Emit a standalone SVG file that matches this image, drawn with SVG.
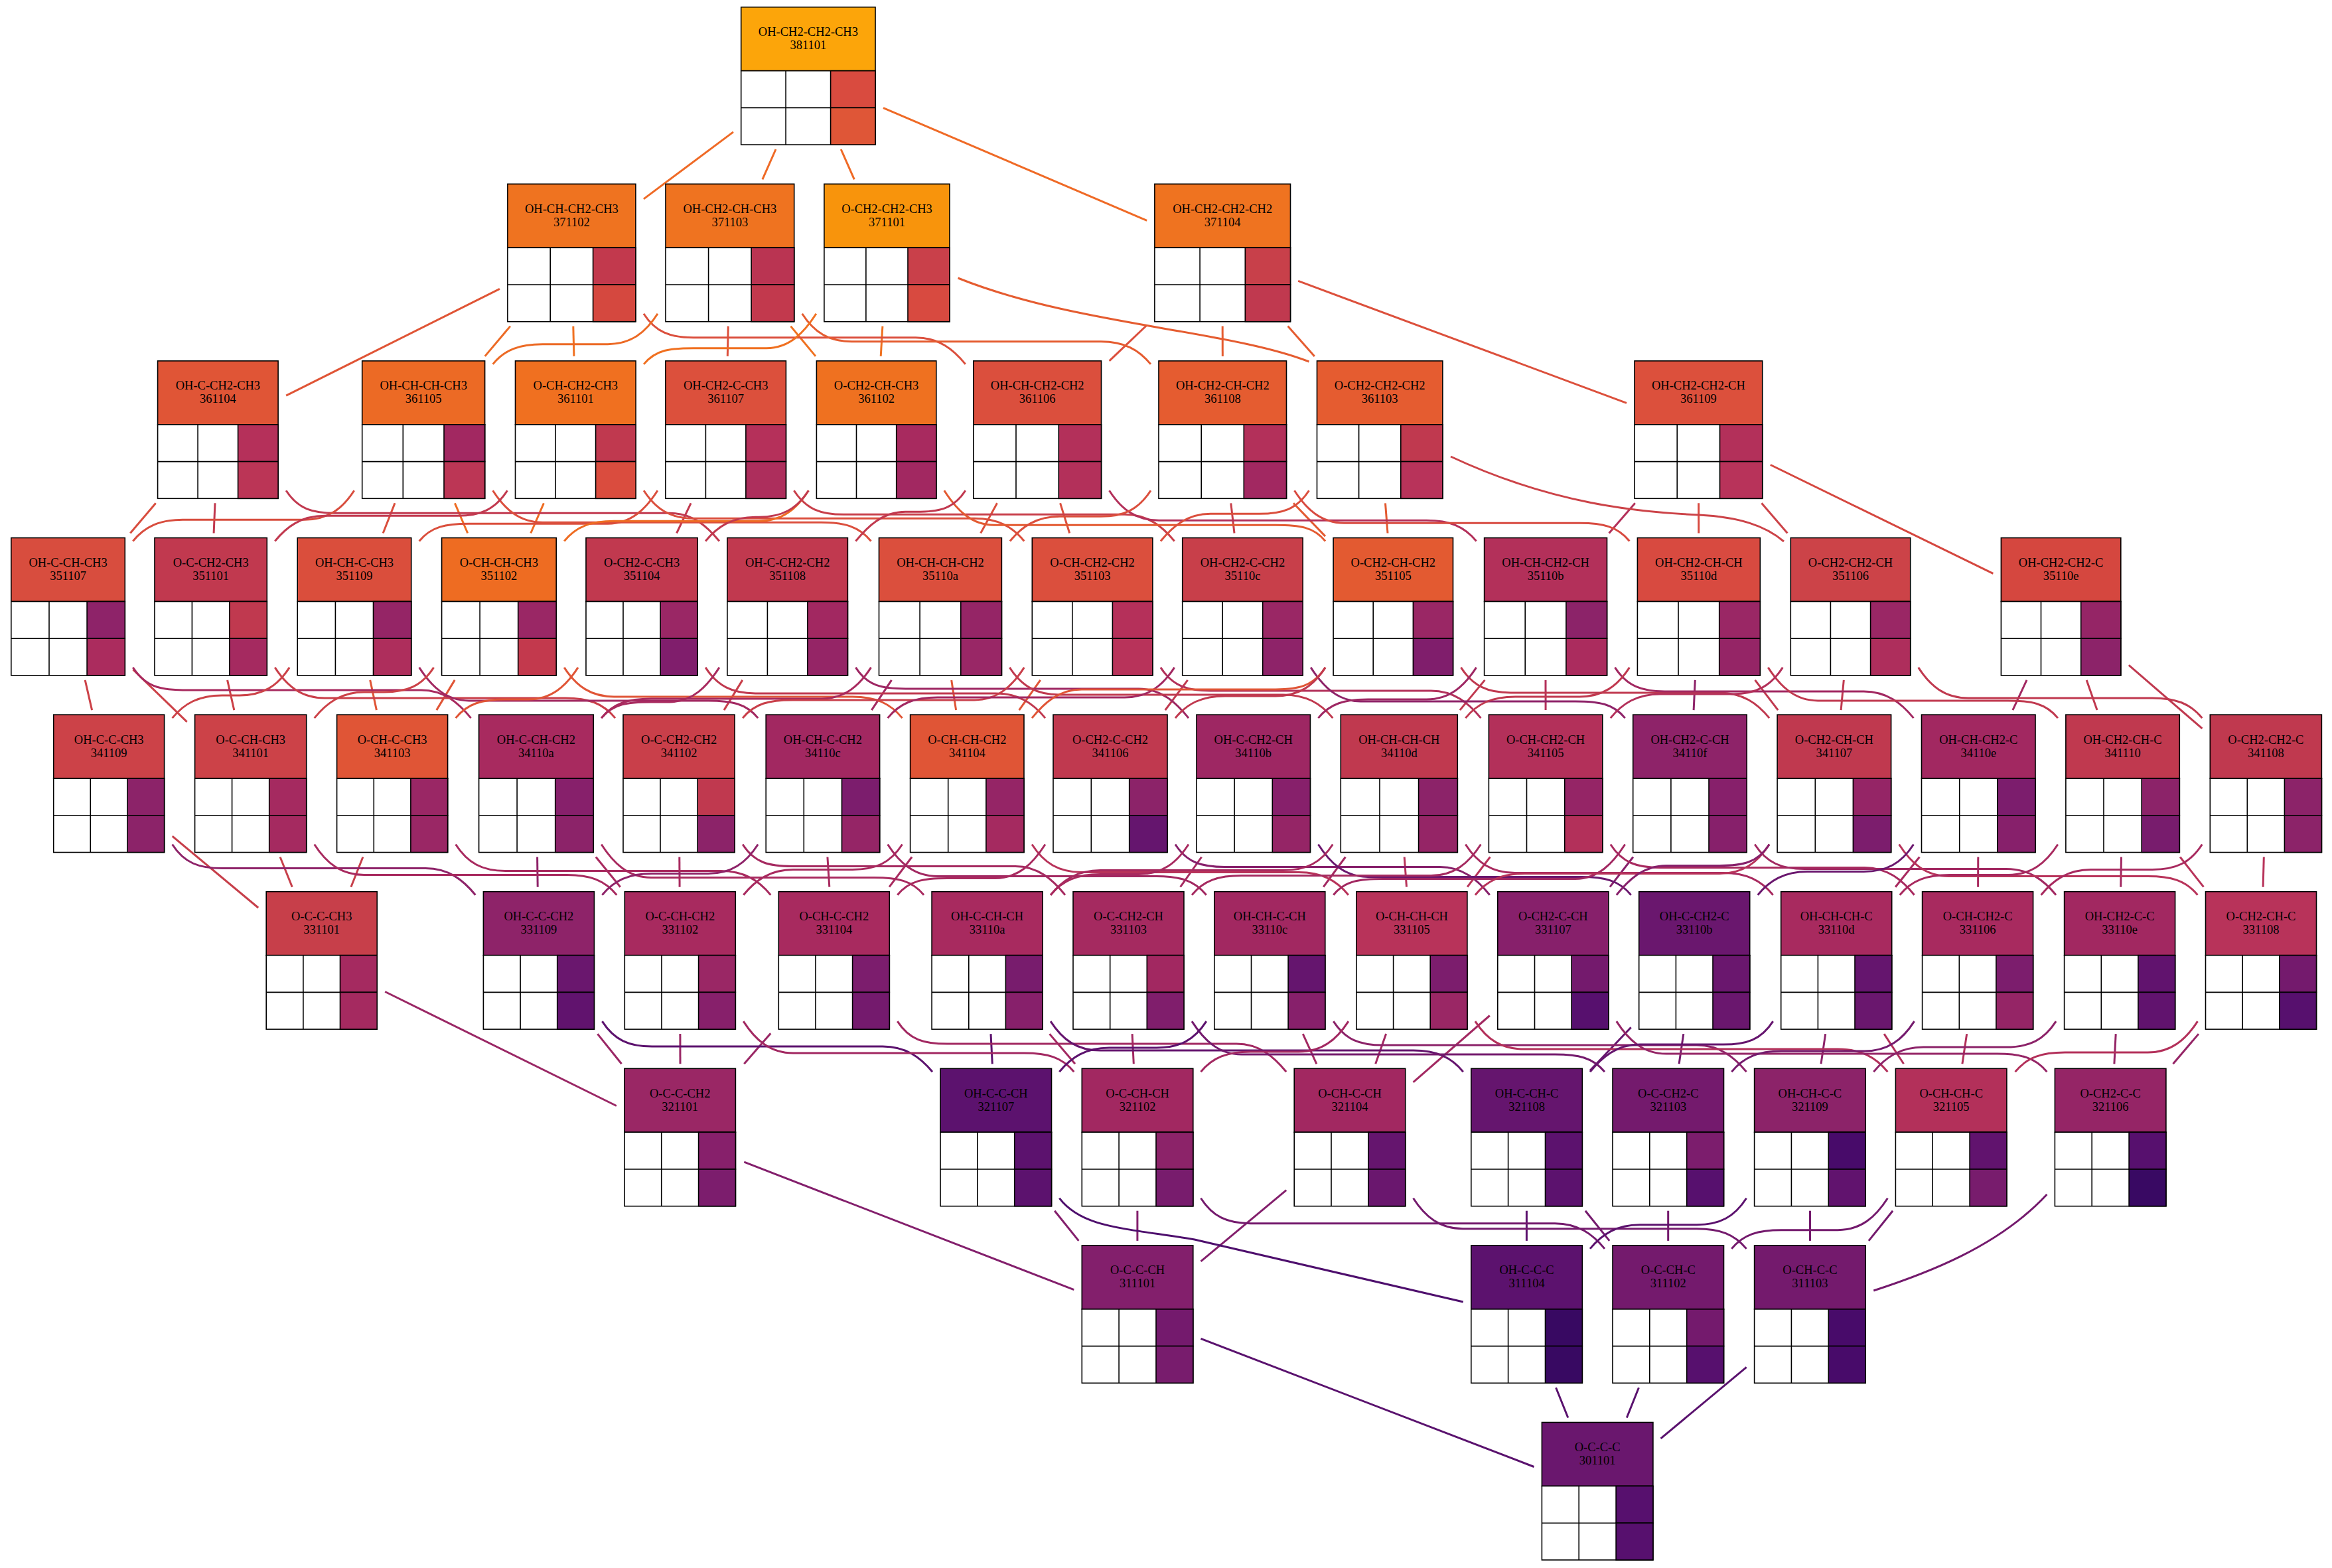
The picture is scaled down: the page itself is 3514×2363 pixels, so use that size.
<svg xmlns="http://www.w3.org/2000/svg" width="3514" height="2363" viewBox="0 0 3514 2363">
<style>
.n rect,.n path{stroke:#000;stroke-width:1.6}
.n path{fill:none}
.n text{font-family:"Liberation Serif","Times New Roman",serif;font-size:18.5px;text-anchor:middle;fill:#000}
.e path{fill:none;stroke-width:3}
</style>
<rect width="3514" height="2363" fill="#fff"/>
<g id="edges" class="e">
<g stroke="#ef6a26">
<path d="M1267.2 225L1287.3 270.4"/><path d="M1105 198.9L969.9 299.9"/><path d="M1169 225L1148.9 270.4"/><path d="M1331 162.7L1728.2 332.3"/>
</g>
<path stroke="#e05536" d="M752.9 435.3L431.2 596.2"/>
<path stroke="#ec6a25" d="M768.9 491.6L730.7 536.9"/>
<path stroke="#f07020" d="M863.8 491.6L864.9 536.9"/>
<path stroke="#ef7120" d="M1191.5 491.6L1229 536.9"/>
<path stroke="#dc503c" d="M1097.3 491.6L1096.3 536.9"/>
<path stroke="#ef7120" d="M1329.9 491.6L1327.2 536.9"/>
<path stroke="#e55c30" d="M1940.6 491.6L1980.8 536.9"/>
<path stroke="#db4f3d" d="M1728.2 490L1671.6 543.9"/>
<path stroke="#e55c30" d="M1842.2 491.6L1842.3 536.9"/>
<path stroke="#dc503c" d="M1956.2 423.4L2451 607.3"/>
<path stroke="#e55c30" d="M1443.5 419C1620 490 1850 497 1972.5 545"/>
<path stroke="#db4f3d" d="M969.9 472.7C987.9 500.7 1009.9 508.7 1044.9 508.7L1379.8 508.7C1414.8 508.7 1436.8 526.9 1454.8 548.9"/>
<path stroke="#ec6a25" d="M991 472.7C973 500.7 951 518.7 916 518.7L817.6 518.7C782.6 518.7 760.6 526.9 742.6 548.9"/>
<path stroke="#e55c30" d="M1208.7 472.7C1226.7 500.7 1248.7 514.7 1283.7 514.7L1659 514.7C1694 514.7 1716 526.9 1734 548.9"/>
<path stroke="#f07020" d="M1229.9 472.7C1211.9 500.7 1189.9 524.7 1154.9 524.7L1045.1 524.7C1010.1 524.7 988.1 526.9 970.1 548.9"/>

<path stroke="#c1394f" d="M324 758.3L322.1 803.5"/>
<path stroke="#d84d3e" d="M234.7 758.3L196.3 803.5"/>
<path stroke="#ee6c22" d="M685.4 758.3L704.7 803.5"/>
<path stroke="#da4e3c" d="M595 758.3L577.2 803.5"/>
<path stroke="#ee6c22" d="M819.4 758.3L799.8 803.5"/>
<path stroke="#c1394f" d="M1041.1 758.3L1019.6 803.5"/>
<path stroke="#db4f3d" d="M1597.6 758.3L1611.7 803.5"/>
<path stroke="#db4f3d" d="M1502.5 758.3L1477.7 803.5"/>
<path stroke="#e35a31" d="M1949 758.3L1997 808.1"/>
<path stroke="#c83f4a" d="M1854.8 758.3L1860 803.5"/>
<path stroke="#e35a31" d="M2087.5 758.3L2091 803.5"/>
<path stroke="#cc4348" d="M2654.5 758.3L2693.4 803.5"/>
<path stroke="#b3305a" d="M2463.8 758.3L2424.6 803.5"/>
<path stroke="#d84a40" d="M2559.6 758.3L2559.7 803.5"/>
<path stroke="#d5473f" d="M2667.8 700.5L3003.4 864.3"/>
<path stroke="#cc4348" d="M2186 688C2340 760 2470 772 2560 776C2620 779 2660 792 2688 816"/>
<path stroke="#c1394f" d="M431.1 739.3C449.1 767.3 471.1 773.3 506.1 773.3L1008.9 773.3C1043.9 773.3 1065.9 793.5 1083.9 815.5"/>
<path stroke="#d84d3e" d="M533.7 739.3C515.7 767.3 493.7 783.3 458.7 783.3L275.3 783.3C240.3 783.3 218.3 793.5 200.3 815.5"/>
<path stroke="#db4f3d" d="M742.6 739.3C760.6 767.3 782.6 787.3 817.6 787.3L1237.5 787.3C1272.5 787.3 1294.5 793.5 1312.5 815.5"/>
<path stroke="#c1394f" d="M764.5 739.3C746.5 767.3 724.5 777.3 689.5 777.3L489.3 777.3C454.3 777.3 432.3 793.5 414.3 815.5"/>
<path stroke="#db4f3d" d="M970.1 739.3C988.1 767.3 1010.1 781.3 1045.1 781.3L1468.3 781.3C1503.3 781.3 1525.3 793.5 1543.3 815.5"/>
<path stroke="#da4e3c" d="M990.9 739.3C972.9 767.3 950.9 789.3 915.9 789.3L706.7 789.3C671.7 789.3 649.7 793.5 631.7 815.5"/>
<path stroke="#c83f4a" d="M1196.4 739.3C1214.4 767.3 1236.4 775.3 1271.4 775.3L1694.7 775.3C1729.7 775.3 1751.7 793.5 1769.7 815.5"/>
<path stroke="#ee6c22" d="M1218.4 739.3C1200.4 767.3 1178.4 785.3 1143.4 785.3L925.2 785.3C890.2 785.3 868.2 793.5 850.2 815.5"/>
<path stroke="#c1394f" d="M1218.4 739.3C1200.4 767.3 1178.4 779.3 1143.4 779.3L1138.1 779.3C1103.1 779.3 1081.1 793.5 1063.1 815.5"/>
<path stroke="#e35a31" d="M1422.8 739.3C1440.8 767.3 1462.8 791.3 1497.8 791.3L1922.1 791.3C1957.1 791.3 1979.1 793.5 1997.1 815.5"/>
<path stroke="#c1394f" d="M1454.8 739.3C1436.8 767.3 1414.8 771.3 1379.8 771.3L1364.4 771.3C1329.4 771.3 1307.4 793.5 1289.4 815.5"/>
<path stroke="#b3305a" d="M1671.5 739.3C1689.5 767.3 1711.5 784.3 1746.5 784.3L2149.6 784.3C2184.6 784.3 2206.6 793.5 2224.6 815.5"/>
<path stroke="#db4f3d" d="M1734 739.3C1716 767.3 1694 778.3 1659 778.3L1596.9 778.3C1561.9 778.3 1539.9 793.5 1521.9 815.5"/>
<path stroke="#d84a40" d="M1950.5 739.3C1968.5 767.3 1990.5 788.3 2025.5 788.3L2380.4 788.3C2415.4 788.3 2437.4 793.5 2455.4 815.5"/>
<path stroke="#db4f3d" d="M1972.5 739.3C1954.5 767.3 1932.5 774.3 1897.5 774.3L1823.9 774.3C1788.9 774.3 1766.9 793.5 1748.9 815.5"/>

<path stroke="#cc4248" d="M200.4 1009L281.7 1087.8"/>
<path stroke="#cc4248" d="M128.2 1024.9L138.6 1070.1"/>
<path stroke="#cc4248" d="M342.6 1024.9L352.8 1070.1"/>
<path stroke="#e05536" d="M557.7 1024.9L567.4 1070.1"/>
<path stroke="#e05536" d="M685.2 1024.9L657.8 1070.1"/>
<path stroke="#c93f4a" d="M1118.8 1024.9L1091 1070.1"/>
<path stroke="#e05536" d="M1433.7 1024.9L1440.6 1070.1"/>
<path stroke="#a22861" d="M1343.5 1024.9L1313.4 1070.1"/>
<path stroke="#e05536" d="M1567.7 1024.9L1535.7 1070.1"/>
<path stroke="#c0394f" d="M1789.7 1024.9L1755.8 1070.1"/>
<path stroke="#b3305a" d="M2329 1024.9L2329.1 1070.1"/>
<path stroke="#c0394f" d="M2237.4 1024.9L2199.9 1070.1"/>
<path stroke="#c0394f" d="M2644.6 1024.9L2679.2 1070.1"/>
<path stroke="#8e2369" d="M2554.3 1024.9L2552.1 1070.1"/>
<path stroke="#c0394f" d="M2778.3 1024.9L2774.1 1070.1"/>
<path stroke="#c0394f" d="M3207.8 1002.4L3318.4 1097.9"/>
<path stroke="#a22861" d="M3054 1024.9L3032.9 1070.1"/>
<path stroke="#c0394f" d="M3144.2 1024.9L3160 1070.1"/>
<path stroke="#a82a5f" d="M200.3 1005.9C218.3 1033.9 240.3 1039.9 275.3 1039.9L634.6 1039.9C669.6 1039.9 691.6 1060.1 709.6 1082.1"/>
<path stroke="#c93f4a" d="M414.3 1005.9C432.3 1033.9 454.3 1051.9 489.3 1051.9L852 1051.9C887 1051.9 909 1060.1 927 1082.1"/>
<path stroke="#cc4248" d="M436.2 1005.9C418.2 1033.9 396.2 1047.9 361.2 1047.9L334.6 1047.9C299.6 1047.9 277.6 1060.1 259.6 1082.1"/>
<path stroke="#a22861" d="M631.7 1005.9C649.7 1033.9 671.7 1055.9 706.7 1055.9L1067.2 1055.9C1102.2 1055.9 1124.2 1060.1 1142.2 1082.1"/>
<path stroke="#cc4248" d="M653.6 1005.9C635.6 1033.9 613.6 1042.9 578.6 1042.9L548.7 1042.9C513.7 1042.9 491.7 1060.1 473.7 1082.1"/>
<path stroke="#e05536" d="M850.2 1005.9C868.2 1033.9 890.2 1049.9 925.2 1049.9L1284.6 1049.9C1319.6 1049.9 1341.6 1060.1 1359.6 1082.1"/>
<path stroke="#e05536" d="M871 1005.9C853 1033.9 831 1053.9 796 1053.9L761.6 1053.9C726.6 1053.9 704.6 1060.1 686.6 1082.1"/>
<path stroke="#c0394f" d="M1063.1 1005.9C1081.1 1033.9 1103.1 1044.9 1138.1 1044.9L1500 1044.9C1535 1044.9 1557 1060.1 1575 1082.1"/>
<path stroke="#a82a5f" d="M1083.9 1005.9C1065.9 1033.9 1043.9 1057.9 1008.9 1057.9L981.2 1057.9C946.2 1057.9 924.2 1060.1 906.2 1082.1"/>
<path stroke="#9e2763" d="M1289.4 1005.9C1307.4 1033.9 1329.4 1037.9 1364.4 1037.9L1716 1037.9C1751 1037.9 1773 1060.1 1791 1082.1"/>
<path stroke="#a82a5f" d="M1312.5 1005.9C1294.5 1033.9 1272.5 1052.9 1237.5 1052.9L981.2 1052.9C946.2 1052.9 924.2 1060.1 906.2 1082.1"/>
<path stroke="#c0394f" d="M1521.4 1005.9C1539.4 1033.9 1561.4 1046.9 1596.4 1046.9L1933.3 1046.9C1968.3 1046.9 1990.3 1060.1 2008.3 1082.1"/>
<path stroke="#c93f4a" d="M1543.3 1005.9C1525.3 1033.9 1503.3 1054.9 1468.3 1054.9L1194.1 1054.9C1159.1 1054.9 1137.1 1060.1 1119.1 1082.1"/>
<path stroke="#b3305a" d="M1748.9 1005.9C1766.9 1033.9 1788.9 1040.9 1823.9 1040.9L2156.4 1040.9C2191.4 1040.9 2213.4 1060.1 2231.4 1082.1"/>
<path stroke="#a22861" d="M1769.7 1005.9C1751.7 1033.9 1729.7 1050.9 1694.7 1050.9L1412.6 1050.9C1377.6 1050.9 1355.6 1060.1 1337.6 1082.1"/>
<path stroke="#8e2369" d="M1975.2 1005.9C1993.2 1033.9 2015.2 1056.9 2050.2 1056.9L2373.7 1056.9C2408.7 1056.9 2430.7 1060.1 2448.7 1082.1"/>
<path stroke="#e05536" d="M1997.1 1005.9C1979.1 1033.9 1957.1 1038.9 1922.1 1038.9L1630 1038.9C1595 1038.9 1573 1060.1 1555 1082.1"/>
<path stroke="#c0394f" d="M1997.1 1005.9C1979.1 1033.9 1957.1 1048.9 1922.1 1048.9L1846 1048.9C1811 1048.9 1789 1060.1 1771 1082.1"/>
<path stroke="#c0394f" d="M2201.5 1005.9C2219.5 1033.9 2241.5 1043.9 2276.5 1043.9L2591.1 1043.9C2626.1 1043.9 2648.1 1060.1 2666.1 1082.1"/>
<path stroke="#9e2763" d="M2224.6 1005.9C2206.6 1033.9 2184.6 1053.9 2149.6 1053.9L2061.4 1053.9C2026.4 1053.9 2004.4 1060.1 1986.4 1082.1"/>
<path stroke="#a22861" d="M2433.5 1005.9C2451.5 1033.9 2473.5 1041.9 2508.5 1041.9L2808.5 1041.9C2843.5 1041.9 2865.5 1060.1 2883.5 1082.1"/>
<path stroke="#c0394f" d="M2455.4 1005.9C2437.4 1033.9 2415.4 1049.9 2380.4 1049.9L2283.3 1049.9C2248.3 1049.9 2226.3 1060.1 2208.3 1082.1"/>
<path stroke="#c0394f" d="M2664.3 1005.9C2682.3 1033.9 2704.3 1055.9 2739.3 1055.9L3025.9 1055.9C3060.9 1055.9 3082.9 1060.1 3100.9 1082.1"/>
<path stroke="#b3305a" d="M2686.3 1005.9C2668.3 1033.9 2646.3 1045.9 2611.3 1045.9L2501.8 1045.9C2466.8 1045.9 2444.8 1060.1 2426.8 1082.1"/>
<path stroke="#c0394f" d="M2890.7 1005.9C2908.7 1033.9 2930.7 1051.9 2965.7 1051.9L3243.3 1051.9C3278.3 1051.9 3300.3 1060.1 3318.3 1082.1"/>

<path stroke="#c73f4a" d="M259.7 1260.2L389.2 1368"/>
<path stroke="#c73f4a" d="M422.1 1291.5L440.3 1336.7"/>
<path stroke="#c73f4a" d="M546.9 1291.5L528.9 1336.7"/>
<path stroke="#a82a5f" d="M897.9 1291.5L934.8 1336.7"/>
<path stroke="#8e2369" d="M809.6 1291.5L810.2 1336.7"/>
<path stroke="#a82a5f" d="M1023.8 1291.5L1024.1 1336.7"/>
<path stroke="#a82a5f" d="M1246.9 1291.5L1249.8 1336.7"/>
<path stroke="#a82a5f" d="M1374.1 1291.5L1340 1336.7"/>
<path stroke="#a52a60" d="M1810.6 1291.5L1778.6 1336.7"/>
<path stroke="#b8335a" d="M2116.2 1291.5L2119.5 1336.7"/>
<path stroke="#a22861" d="M2027.4 1291.5L1994.2 1336.7"/>
<path stroke="#b8335a" d="M2245.4 1291.5L2211.1 1336.7"/>
<path stroke="#87206b" d="M2460.9 1291.5L2425.9 1336.7"/>
<path stroke="#a82a5f" d="M2980.8 1291.5L2980.6 1336.7"/>
<path stroke="#a82a5f" d="M2892.4 1291.5L2856.1 1336.7"/>
<path stroke="#b8335a" d="M3285.1 1291.5L3320.5 1336.7"/>
<path stroke="#a22861" d="M3196.5 1291.5L3195.7 1336.7"/>
<path stroke="#b8335a" d="M3411.3 1291.5L3410.1 1336.7"/>
<path stroke="#8e2369" d="M259.6 1272.5C277.6 1300.5 299.6 1308.5 334.6 1308.5L641.4 1308.5C676.4 1308.5 698.4 1326.7 716.4 1348.7"/>
<path stroke="#a82a5f" d="M473.7 1272.5C491.7 1300.5 513.7 1318.5 548.7 1318.5L854.3 1318.5C889.3 1318.5 911.3 1326.7 929.3 1348.7"/>
<path stroke="#a82a5f" d="M686.6 1272.5C704.6 1300.5 726.6 1312.5 761.6 1312.5L1086.3 1312.5C1121.3 1312.5 1143.3 1326.7 1161.3 1348.7"/>
<path stroke="#a82a5f" d="M906.2 1272.5C924.2 1300.5 946.2 1322.5 981.2 1322.5L1317.1 1322.5C1352.1 1322.5 1374.1 1326.7 1392.1 1348.7"/>
<path stroke="#a52a60" d="M1119.1 1272.5C1137.1 1300.5 1159.1 1305.5 1194.1 1305.5L1530 1305.5C1565 1305.5 1587 1326.7 1605 1348.7"/>
<path stroke="#8e2369" d="M1142.2 1272.5C1124.2 1300.5 1102.2 1316.5 1067.2 1316.5L982.4 1316.5C947.4 1316.5 925.4 1326.7 907.4 1348.7"/>
<path stroke="#a22861" d="M1337.6 1272.5C1355.6 1300.5 1377.6 1320.5 1412.6 1320.5L1742.8 1320.5C1777.8 1320.5 1799.8 1326.7 1817.8 1348.7"/>
<path stroke="#a82a5f" d="M1359.6 1272.5C1341.6 1300.5 1319.6 1310.5 1284.6 1310.5L1195.3 1310.5C1160.3 1310.5 1138.3 1326.7 1120.3 1348.7"/>
<path stroke="#b8335a" d="M1555 1272.5C1573 1300.5 1595 1314.5 1630 1314.5L1956.9 1314.5C1991.9 1314.5 2013.9 1326.7 2031.9 1348.7"/>
<path stroke="#a82a5f" d="M1575 1272.5C1557 1300.5 1535 1323.5 1500 1323.5L1427.3 1323.5C1392.3 1323.5 1370.3 1326.7 1352.3 1348.7"/>
<path stroke="#87206b" d="M1771 1272.5C1789 1300.5 1811 1306.5 1846 1306.5L2169.8 1306.5C2204.8 1306.5 2226.8 1326.7 2244.8 1348.7"/>
<path stroke="#a82a5f" d="M1791 1272.5C1773 1300.5 1751 1317.5 1716 1317.5L1658.1 1317.5C1623.1 1317.5 1601.1 1326.7 1583.1 1348.7"/>
<path stroke="#6a176e" d="M1986.4 1272.5C2004.4 1300.5 2026.4 1321.5 2061.4 1321.5L2382.7 1321.5C2417.7 1321.5 2439.7 1326.7 2457.7 1348.7"/>
<path stroke="#a82a5f" d="M2008.3 1272.5C1990.3 1300.5 1968.3 1311.5 1933.3 1311.5L1658.1 1311.5C1623.1 1311.5 1601.1 1326.7 1583.1 1348.7"/>
<path stroke="#a82a5f" d="M2208.3 1272.5C2226.3 1300.5 2248.3 1315.5 2283.3 1315.5L2596.7 1315.5C2631.7 1315.5 2653.7 1326.7 2671.7 1348.7"/>
<path stroke="#a52a60" d="M2231.4 1272.5C2213.4 1300.5 2191.4 1319.5 2156.4 1319.5L1871 1319.5C1836 1319.5 1814 1326.7 1796 1348.7"/>
<path stroke="#a82a5f" d="M2426.8 1272.5C2444.8 1300.5 2466.8 1307.5 2501.8 1307.5L2809.6 1307.5C2844.6 1307.5 2866.6 1326.7 2884.6 1348.7"/>
<path stroke="#a22861" d="M2448.7 1272.5C2430.7 1300.5 2408.7 1324.5 2373.7 1324.5L2084.3 1324.5C2049.3 1324.5 2027.3 1326.7 2009.3 1348.7"/>
<path stroke="#a22861" d="M2644.2 1272.5C2662.2 1300.5 2684.2 1309.5 2719.2 1309.5L3023.1 1309.5C3058.1 1309.5 3080.1 1326.7 3098.1 1348.7"/>
<path stroke="#b8335a" d="M2666.1 1272.5C2648.1 1300.5 2626.1 1316.5 2591.1 1316.5L2297.9 1316.5C2262.9 1316.5 2240.9 1326.7 2222.9 1348.7"/>
<path stroke="#87206b" d="M2666.1 1272.5C2648.1 1300.5 2626.1 1304.5 2591.1 1304.5L2510.8 1304.5C2475.8 1304.5 2453.8 1326.7 2435.8 1348.7"/>
<path stroke="#b8335a" d="M2861.6 1272.5C2879.6 1300.5 2901.6 1320.5 2936.6 1320.5L3236.5 1320.5C3271.5 1320.5 3293.5 1326.7 3311.5 1348.7"/>
<path stroke="#6a176e" d="M2883.5 1272.5C2865.5 1300.5 2843.5 1313.5 2808.5 1313.5L2723.7 1313.5C2688.7 1313.5 2666.7 1326.7 2648.7 1348.7"/>
<path stroke="#a82a5f" d="M3100.9 1272.5C3082.9 1300.5 3060.9 1318.5 3025.9 1318.5L2937.7 1318.5C2902.7 1318.5 2880.7 1326.7 2862.7 1348.7"/>
<path stroke="#a82a5f" d="M3318.3 1272.5C3300.3 1300.5 3278.3 1310.5 3243.3 1310.5L3150.6 1310.5C3115.6 1310.5 3093.6 1326.7 3075.6 1348.7"/>

<path stroke="#9a2765" d="M580.2 1494.5L928.9 1666.5"/>
<path stroke="#9a2765" d="M900.4 1558.1L936.6 1603.3"/>
<path stroke="#9a2765" d="M1024.9 1558.1L1025 1603.3"/>
<path stroke="#9a2765" d="M1161.3 1557.2L1121.3 1603.3"/>
<path stroke="#a22861" d="M1581.5 1558.1L1620 1603.3"/>
<path stroke="#5c126e" d="M1493 1558.1L1495.3 1603.3"/>
<path stroke="#a22861" d="M1706.1 1558.1L1708.3 1603.3"/>
<path stroke="#a22861" d="M1963.3 1558.1L1983.9 1603.3"/>
<path stroke="#a22861" d="M2088.6 1558.1L2072.7 1603.3"/>
<path stroke="#a22861" d="M2244.8 1530.5L2129.6 1630.8"/>
<path stroke="#741a6d" d="M2536.8 1558.1L2530.1 1603.3"/>
<path stroke="#65156e" d="M2457.7 1548.2L2396 1613.2"/>
<path stroke="#b3305a" d="M2839.1 1558.1L2868.6 1603.3"/>
<path stroke="#8c2369" d="M2750.7 1558.1L2744 1603.3"/>
<path stroke="#b3305a" d="M2963.7 1558.1L2956.9 1603.3"/>
<path stroke="#952566" d="M3188.2 1558.1L3185.9 1603.3"/>
<path stroke="#952566" d="M3313 1558.1L3274.5 1603.3"/>
<path stroke="#5c126e" d="M907.4 1539.1C925.4 1567.1 947.4 1577.1 982.4 1577.1L1330 1577.1C1365 1577.1 1387 1593.3 1405 1615.3"/>
<path stroke="#a22861" d="M1120.2 1539.1C1138.2 1567.1 1160.2 1587.1 1195.2 1587.1L1543.3 1587.1C1578.3 1587.1 1600.3 1593.3 1618.3 1615.3"/>
<path stroke="#a22861" d="M1352.3 1539.1C1370.3 1567.1 1392.3 1573.1 1427.3 1573.1L1863.2 1573.1C1898.2 1573.1 1920.2 1593.3 1938.2 1615.3"/>
<path stroke="#65156e" d="M1583.1 1539.1C1601.1 1567.1 1623.1 1583.1 1658.1 1583.1L2129.8 1583.1C2164.8 1583.1 2186.8 1593.3 2204.8 1615.3"/>
<path stroke="#741a6d" d="M1796 1539.1C1814 1567.1 1836 1589.1 1871 1589.1L2343 1589.1C2378 1589.1 2400 1593.3 2418 1615.3"/>
<path stroke="#5c126e" d="M1817.8 1539.1C1799.8 1567.1 1777.8 1579.1 1742.8 1579.1L1671.3 1579.1C1636.3 1579.1 1614.3 1593.3 1596.3 1615.3"/>
<path stroke="#8c2369" d="M2009.3 1539.1C2027.3 1567.1 2049.3 1575.1 2084.3 1575.1L2556.6 1575.1C2591.6 1575.1 2613.6 1593.3 2631.6 1615.3"/>
<path stroke="#a22861" d="M2031.9 1539.1C2013.9 1567.1 1991.9 1585.1 1956.9 1585.1L1884.5 1585.1C1849.5 1585.1 1827.5 1593.3 1809.5 1615.3"/>
<path stroke="#b3305a" d="M2222.9 1539.1C2240.9 1567.1 2262.9 1581.1 2297.9 1581.1L2769.4 1581.1C2804.4 1581.1 2826.4 1593.3 2844.4 1615.3"/>
<path stroke="#952566" d="M2435.8 1539.1C2453.8 1567.1 2475.8 1588.1 2510.8 1588.1L3009.4 1588.1C3044.4 1588.1 3066.4 1593.3 3084.4 1615.3"/>
<path stroke="#65156e" d="M2671.7 1539.1C2653.7 1567.1 2631.7 1574.1 2596.7 1574.1L2471 1574.1C2436 1574.1 2414 1593.3 2396 1615.3"/>
<path stroke="#741a6d" d="M2884.6 1539.1C2866.6 1567.1 2844.6 1584.1 2809.6 1584.1L2684.3 1584.1C2649.3 1584.1 2627.3 1593.3 2609.3 1615.3"/>
<path stroke="#8c2369" d="M3098.1 1539.1C3080.1 1567.1 3058.1 1578.1 3023.1 1578.1L2898.3 1578.1C2863.3 1578.1 2841.3 1593.3 2823.3 1615.3"/>
<path stroke="#b3305a" d="M3311.5 1539.1C3293.5 1567.1 3271.5 1586.1 3236.5 1586.1L3111.6 1586.1C3076.6 1586.1 3054.6 1593.3 3036.6 1615.3"/>

<path stroke="#831f6c" d="M1121.3 1751.2L1618.3 1943.6"/>
<path stroke="#831f6c" d="M1589.2 1824.7L1625.4 1869.9"/>
<path stroke="#831f6c" d="M1713.9 1824.7L1713.9 1869.9"/>
<path stroke="#831f6c" d="M1938.2 1793.7L1809.5 1900.9"/>
<path stroke="#741a6d" d="M2388.9 1824.7L2425.2 1869.9"/>
<path stroke="#5c126e" d="M2300.4 1824.7L2300.4 1869.9"/>
<path stroke="#741a6d" d="M2513.7 1824.7L2513.7 1869.9"/>
<path stroke="#741a6d" d="M2727.5 1824.7L2727.5 1869.9"/>
<path stroke="#741a6d" d="M2852.1 1824.7L2815.9 1869.9"/>
<path stroke="#4e0f6d" d="M1596.3 1805.7C1630 1850 1690 1850 1800 1868L2204.8 1962"/>
<path stroke="#741a6d" d="M3084.4 1800C3010 1880 2900 1920 2823.3 1945"/>
<path stroke="#741a6d" d="M1809.5 1805.7C1827.5 1833.7 1849.5 1843.7 1884.5 1843.7L2343 1843.7C2378 1843.7 2400 1859.9 2418 1881.9"/>
<path stroke="#741a6d" d="M2129.6 1805.7C2147.6 1833.7 2169.6 1851.7 2204.6 1851.7L2556.6 1851.7C2591.6 1851.7 2613.6 1859.9 2631.6 1881.9"/>
<path stroke="#5c126e" d="M2631.6 1805.7C2613.6 1833.7 2591.6 1845.7 2556.6 1845.7L2471 1845.7C2436 1845.7 2414 1859.9 2396 1881.9"/>
<path stroke="#741a6d" d="M2844.4 1805.7C2826.4 1833.7 2804.4 1853.7 2769.4 1853.7L2684.3 1853.7C2649.3 1853.7 2627.3 1859.9 2609.3 1881.9"/>

<g stroke="#5a126e">
<path d="M1809.5 2017.4L2311.5 2210.5"/><path d="M2344.6 2091.3L2362.8 2136.5"/><path d="M2469.4 2091.3L2451.3 2136.5"/><path d="M2631.7 2060.3L2502.5 2167.8"/>
</g>
</g>

<g id="n381101" class="n" transform="translate(1116.7 10.7)"><rect width="202.3" height="96" fill="#fca50a"/><rect y="96" width="202.3" height="111.4" fill="#fff"/><rect x="134.9" y="96" width="67.4" height="55.7" fill="#d94b3f"/><rect x="134.9" y="151.7" width="67.4" height="55.7" fill="#df5637"/><path d="M67.4 96V207.4M0 151.7H134.9"/><text x="101.2" y="43.5">OH-CH2-CH2-CH3</text><text x="101.2" y="63.5">381101</text></g>

<g id="n371102" class="n" transform="translate(764.9 277.3)"><rect width="193" height="96" fill="#ef7320"/><rect y="96" width="193" height="111.4" fill="#fff"/><rect x="128.7" y="96" width="64.3" height="55.7" fill="#c2394d"/><rect x="128.7" y="151.7" width="64.3" height="55.7" fill="#d5483f"/><path d="M64.3 96V207.4M0 151.7H128.7"/><text x="96.5" y="43.5">OH-CH-CH2-CH3</text><text x="96.5" y="63.5">371102</text></g>
<g id="n371103" class="n" transform="translate(1003 277.3)"><rect width="193.7" height="96" fill="#ef7320"/><rect y="96" width="193.7" height="111.4" fill="#fff"/><rect x="129.1" y="96" width="64.6" height="55.7" fill="#ba3452"/><rect x="129.1" y="151.7" width="64.6" height="55.7" fill="#c2394d"/><path d="M64.6 96V207.4M0 151.7H129.1"/><text x="96.9" y="43.5">OH-CH2-CH-CH3</text><text x="96.9" y="63.5">371103</text></g>
<g id="n371101" class="n" transform="translate(1241.9 277.3)"><rect width="189.1" height="96" fill="#f8940c"/><rect y="96" width="189.1" height="111.4" fill="#fff"/><rect x="126.1" y="96" width="63" height="55.7" fill="#c9404a"/><rect x="126.1" y="151.7" width="63" height="55.7" fill="#d84a40"/><path d="M63 96V207.4M0 151.7H126.1"/><text x="94.6" y="43.5">O-CH2-CH2-CH3</text><text x="94.6" y="63.5">371101</text></g>
<g id="n371104" class="n" transform="translate(1739.9 277.3)"><rect width="204.6" height="96" fill="#ef7320"/><rect y="96" width="204.6" height="111.4" fill="#fff"/><rect x="136.4" y="96" width="68.2" height="55.7" fill="#c8404a"/><rect x="136.4" y="151.7" width="68.2" height="55.7" fill="#c0394f"/><path d="M68.2 96V207.4M0 151.7H136.4"/><text x="102.3" y="43.5">OH-CH2-CH2-CH2</text><text x="102.3" y="63.5">371104</text></g>

<g id="n361104" class="n" transform="translate(237.6 543.9)"><rect width="181.5" height="96" fill="#e05536"/><rect y="96" width="181.5" height="111.4" fill="#fff"/><rect x="121" y="96" width="60.5" height="55.7" fill="#b5305a"/><rect x="121" y="151.7" width="60.5" height="55.7" fill="#bb3556"/><path d="M60.5 96V207.4M0 151.7H121"/><text x="90.8" y="43.5">OH-C-CH2-CH3</text><text x="90.8" y="63.5">361104</text></g>
<g id="n361105" class="n" transform="translate(545.7 543.9)"><rect width="184.9" height="96" fill="#ec6a25"/><rect y="96" width="184.9" height="111.4" fill="#fff"/><rect x="123.3" y="96" width="61.6" height="55.7" fill="#a22861"/><rect x="123.3" y="151.7" width="61.6" height="55.7" fill="#bc3655"/><path d="M61.6 96V207.4M0 151.7H123.3"/><text x="92.5" y="43.5">OH-CH-CH-CH3</text><text x="92.5" y="63.5">361105</text></g>
<g id="n361101" class="n" transform="translate(776.5 543.9)"><rect width="181.6" height="96" fill="#f07020"/><rect y="96" width="181.6" height="111.4" fill="#fff"/><rect x="121.1" y="96" width="60.5" height="55.7" fill="#c0394f"/><rect x="121.1" y="151.7" width="60.5" height="55.7" fill="#da4c3e"/><path d="M60.5 96V207.4M0 151.7H121.1"/><text x="90.8" y="43.5">O-CH-CH2-CH3</text><text x="90.8" y="63.5">361101</text></g>
<g id="n361107" class="n" transform="translate(1002.9 543.9)"><rect width="181.5" height="96" fill="#dc503c"/><rect y="96" width="181.5" height="111.4" fill="#fff"/><rect x="121" y="96" width="60.5" height="55.7" fill="#b5305a"/><rect x="121" y="151.7" width="60.5" height="55.7" fill="#ad2e5c"/><path d="M60.5 96V207.4M0 151.7H121"/><text x="90.8" y="43.5">OH-CH2-C-CH3</text><text x="90.8" y="63.5">361107</text></g>
<g id="n361102" class="n" transform="translate(1230.4 543.9)"><rect width="180.4" height="96" fill="#ef7120"/><rect y="96" width="180.4" height="111.4" fill="#fff"/><rect x="120.3" y="96" width="60.1" height="55.7" fill="#a82a5f"/><rect x="120.3" y="151.7" width="60.1" height="55.7" fill="#a22861"/><path d="M60.1 96V207.4M0 151.7H120.3"/><text x="90.2" y="43.5">O-CH2-CH-CH3</text><text x="90.2" y="63.5">361102</text></g>
<g id="n361106" class="n" transform="translate(1466.8 543.9)"><rect width="192.7" height="96" fill="#db4f3d"/><rect y="96" width="192.7" height="111.4" fill="#fff"/><rect x="128.5" y="96" width="64.2" height="55.7" fill="#b3305a"/><rect x="128.5" y="151.7" width="64.2" height="55.7" fill="#b3305a"/><path d="M64.2 96V207.4M0 151.7H128.5"/><text x="96.4" y="43.5">OH-CH-CH2-CH2</text><text x="96.4" y="63.5">361106</text></g>
<g id="n361108" class="n" transform="translate(1746 543.9)"><rect width="192.5" height="96" fill="#e55c30"/><rect y="96" width="192.5" height="111.4" fill="#fff"/><rect x="128.3" y="96" width="64.2" height="55.7" fill="#b3305a"/><rect x="128.3" y="151.7" width="64.2" height="55.7" fill="#a22861"/><path d="M64.2 96V207.4M0 151.7H128.3"/><text x="96.3" y="43.5">OH-CH2-CH-CH2</text><text x="96.3" y="63.5">361108</text></g>
<g id="n361103" class="n" transform="translate(1984.5 543.9)"><rect width="189.4" height="96" fill="#e55c30"/><rect y="96" width="189.4" height="111.4" fill="#fff"/><rect x="126.3" y="96" width="63.1" height="55.7" fill="#c0394f"/><rect x="126.3" y="151.7" width="63.1" height="55.7" fill="#b8335a"/><path d="M63.1 96V207.4M0 151.7H126.3"/><text x="94.7" y="43.5">O-CH2-CH2-CH2</text><text x="94.7" y="63.5">361103</text></g>
<g id="n361109" class="n" transform="translate(2463 543.9)"><rect width="192.7" height="96" fill="#dc503c"/><rect y="96" width="192.7" height="111.4" fill="#fff"/><rect x="128.5" y="96" width="64.2" height="55.7" fill="#b3305a"/><rect x="128.5" y="151.7" width="64.2" height="55.7" fill="#b8335a"/><path d="M64.2 96V207.4M0 151.7H128.5"/><text x="96.4" y="43.5">OH-CH2-CH2-CH</text><text x="96.4" y="63.5">361109</text></g>

<g id="n351107" class="n" transform="translate(16.8 810.5)"><rect width="171.5" height="96" fill="#d84d3e"/><rect y="96" width="171.5" height="111.4" fill="#fff"/><rect x="114.3" y="96" width="57.2" height="55.7" fill="#8e2369"/><rect x="114.3" y="151.7" width="57.2" height="55.7" fill="#ab2c5e"/><path d="M57.2 96V207.4M0 151.7H114.3"/><text x="85.8" y="43.5">OH-C-CH-CH3</text><text x="85.8" y="63.5">351107</text></g>
<g id="n351101" class="n" transform="translate(233 810.5)"><rect width="169.3" height="96" fill="#c1394f"/><rect y="96" width="169.3" height="111.4" fill="#fff"/><rect x="112.9" y="96" width="56.4" height="55.7" fill="#c0394f"/><rect x="112.9" y="151.7" width="56.4" height="55.7" fill="#a52a60"/><path d="M56.4 96V207.4M0 151.7H112.9"/><text x="84.7" y="43.5">O-C-CH2-CH3</text><text x="84.7" y="63.5">351101</text></g>
<g id="n351109" class="n" transform="translate(448.2 810.5)"><rect width="171.5" height="96" fill="#da4e3c"/><rect y="96" width="171.5" height="111.4" fill="#fff"/><rect x="114.3" y="96" width="57.2" height="55.7" fill="#952566"/><rect x="114.3" y="151.7" width="57.2" height="55.7" fill="#ae2e5c"/><path d="M57.2 96V207.4M0 151.7H114.3"/><text x="85.8" y="43.5">OH-CH-C-CH3</text><text x="85.8" y="63.5">351109</text></g>
<g id="n351102" class="n" transform="translate(665.6 810.5)"><rect width="172.6" height="96" fill="#ee6c22"/><rect y="96" width="172.6" height="111.4" fill="#fff"/><rect x="115.1" y="96" width="57.5" height="55.7" fill="#9a2765"/><rect x="115.1" y="151.7" width="57.5" height="55.7" fill="#c3394d"/><path d="M57.5 96V207.4M0 151.7H115.1"/><text x="86.3" y="43.5">O-CH-CH-CH3</text><text x="86.3" y="63.5">351102</text></g>
<g id="n351104" class="n" transform="translate(883 810.5)"><rect width="168.1" height="96" fill="#c1394f"/><rect y="96" width="168.1" height="111.4" fill="#fff"/><rect x="112.1" y="96" width="56" height="55.7" fill="#9a2765"/><rect x="112.1" y="151.7" width="56" height="55.7" fill="#801e6c"/><path d="M56 96V207.4M0 151.7H112.1"/><text x="84.1" y="43.5">O-CH2-C-CH3</text><text x="84.1" y="63.5">351104</text></g>
<g id="n351108" class="n" transform="translate(1095.9 810.5)"><rect width="181.5" height="96" fill="#c1394f"/><rect y="96" width="181.5" height="111.4" fill="#fff"/><rect x="121" y="96" width="60.5" height="55.7" fill="#a22861"/><rect x="121" y="151.7" width="60.5" height="55.7" fill="#952566"/><path d="M60.5 96V207.4M0 151.7H121"/><text x="90.8" y="43.5">OH-C-CH2-CH2</text><text x="90.8" y="63.5">351108</text></g>
<g id="n35110a" class="n" transform="translate(1324.5 810.5)"><rect width="184.9" height="96" fill="#db4f3d"/><rect y="96" width="184.9" height="111.4" fill="#fff"/><rect x="123.3" y="96" width="61.6" height="55.7" fill="#952566"/><rect x="123.3" y="151.7" width="61.6" height="55.7" fill="#992766"/><path d="M61.6 96V207.4M0 151.7H123.3"/><text x="92.5" y="43.5">OH-CH-CH-CH2</text><text x="92.5" y="63.5">35110a</text></g>
<g id="n351103" class="n" transform="translate(1555.3 810.5)"><rect width="181.6" height="96" fill="#db4f3d"/><rect y="96" width="181.6" height="111.4" fill="#fff"/><rect x="121.1" y="96" width="60.5" height="55.7" fill="#b5305a"/><rect x="121.1" y="151.7" width="60.5" height="55.7" fill="#b8335a"/><path d="M60.5 96V207.4M0 151.7H121.1"/><text x="90.8" y="43.5">O-CH-CH2-CH2</text><text x="90.8" y="63.5">351103</text></g>
<g id="n35110c" class="n" transform="translate(1781.7 810.5)"><rect width="181.5" height="96" fill="#c83f4a"/><rect y="96" width="181.5" height="111.4" fill="#fff"/><rect x="121" y="96" width="60.5" height="55.7" fill="#9a2765"/><rect x="121" y="151.7" width="60.5" height="55.7" fill="#8e2369"/><path d="M60.5 96V207.4M0 151.7H121"/><text x="90.8" y="43.5">OH-CH2-C-CH2</text><text x="90.8" y="63.5">35110c</text></g>
<g id="n351105" class="n" transform="translate(2009.1 810.5)"><rect width="180.4" height="96" fill="#e35a31"/><rect y="96" width="180.4" height="111.4" fill="#fff"/><rect x="120.3" y="96" width="60.1" height="55.7" fill="#9a2765"/><rect x="120.3" y="151.7" width="60.1" height="55.7" fill="#801e6c"/><path d="M60.1 96V207.4M0 151.7H120.3"/><text x="90.2" y="43.5">O-CH2-CH-CH2</text><text x="90.2" y="63.5">351105</text></g>
<g id="n35110b" class="n" transform="translate(2236.6 810.5)"><rect width="184.9" height="96" fill="#b3305a"/><rect y="96" width="184.9" height="111.4" fill="#fff"/><rect x="123.3" y="96" width="61.6" height="55.7" fill="#8c2369"/><rect x="123.3" y="151.7" width="61.6" height="55.7" fill="#ab2c5e"/><path d="M61.6 96V207.4M0 151.7H123.3"/><text x="92.5" y="43.5">OH-CH-CH2-CH</text><text x="92.5" y="63.5">35110b</text></g>
<g id="n35110d" class="n" transform="translate(2467.4 810.5)"><rect width="184.9" height="96" fill="#d84a40"/><rect y="96" width="184.9" height="111.4" fill="#fff"/><rect x="123.3" y="96" width="61.6" height="55.7" fill="#9a2765"/><rect x="123.3" y="151.7" width="61.6" height="55.7" fill="#952566"/><path d="M61.6 96V207.4M0 151.7H123.3"/><text x="92.5" y="43.5">OH-CH2-CH-CH</text><text x="92.5" y="63.5">35110d</text></g>
<g id="n351106" class="n" transform="translate(2698.3 810.5)"><rect width="180.4" height="96" fill="#cc4348"/><rect y="96" width="180.4" height="111.4" fill="#fff"/><rect x="120.3" y="96" width="60.1" height="55.7" fill="#9a2765"/><rect x="120.3" y="151.7" width="60.1" height="55.7" fill="#ae2e5c"/><path d="M60.1 96V207.4M0 151.7H120.3"/><text x="90.2" y="43.5">O-CH2-CH2-CH</text><text x="90.2" y="63.5">351106</text></g>
<g id="n35110e" class="n" transform="translate(3015.4 810.5)"><rect width="180.4" height="96" fill="#d5473f"/><rect y="96" width="180.4" height="111.4" fill="#fff"/><rect x="120.3" y="96" width="60.1" height="55.7" fill="#952566"/><rect x="120.3" y="151.7" width="60.1" height="55.7" fill="#8c2369"/><path d="M60.1 96V207.4M0 151.7H120.3"/><text x="90.2" y="43.5">OH-CH2-CH2-C</text><text x="90.2" y="63.5">35110e</text></g>

<g id="n341109" class="n" transform="translate(80.7 1077.1)"><rect width="166.9" height="96" fill="#cc4248"/><rect y="96" width="166.9" height="111.4" fill="#fff"/><rect x="111.3" y="96" width="55.6" height="55.7" fill="#8c2369"/><rect x="111.3" y="151.7" width="55.6" height="55.7" fill="#8c2369"/><path d="M55.6 96V207.4M0 151.7H111.3"/><text x="83.5" y="43.5">OH-C-C-CH3</text><text x="83.5" y="63.5">341109</text></g>
<g id="n341101" class="n" transform="translate(293.6 1077.1)"><rect width="168.1" height="96" fill="#cc4248"/><rect y="96" width="168.1" height="111.4" fill="#fff"/><rect x="112.1" y="96" width="56" height="55.7" fill="#a52a60"/><rect x="112.1" y="151.7" width="56" height="55.7" fill="#a52a60"/><path d="M56 96V207.4M0 151.7H112.1"/><text x="84.1" y="43.5">O-C-CH-CH3</text><text x="84.1" y="63.5">341101</text></g>
<g id="n341103" class="n" transform="translate(507.6 1077.1)"><rect width="167" height="96" fill="#e05536"/><rect y="96" width="167" height="111.4" fill="#fff"/><rect x="111.3" y="96" width="55.7" height="55.7" fill="#9a2765"/><rect x="111.3" y="151.7" width="55.7" height="55.7" fill="#9a2765"/><path d="M55.7 96V207.4M0 151.7H111.3"/><text x="83.5" y="43.5">O-CH-C-CH3</text><text x="83.5" y="63.5">341103</text></g>
<g id="n34110a" class="n" transform="translate(721.6 1077.1)"><rect width="172.6" height="96" fill="#a82a5f"/><rect y="96" width="172.6" height="111.4" fill="#fff"/><rect x="115.1" y="96" width="57.5" height="55.7" fill="#87206b"/><rect x="115.1" y="151.7" width="57.5" height="55.7" fill="#8c2369"/><path d="M57.5 96V207.4M0 151.7H115.1"/><text x="86.3" y="43.5">OH-C-CH-CH2</text><text x="86.3" y="63.5">34110a</text></g>
<g id="n341102" class="n" transform="translate(939 1077.1)"><rect width="168.1" height="96" fill="#c93f4a"/><rect y="96" width="168.1" height="111.4" fill="#fff"/><rect x="112.1" y="96" width="56" height="55.7" fill="#c0394f"/><rect x="112.1" y="151.7" width="56" height="55.7" fill="#8c2369"/><path d="M56 96V207.4M0 151.7H112.1"/><text x="84.1" y="43.5">O-C-CH2-CH2</text><text x="84.1" y="63.5">341102</text></g>
<g id="n34110c" class="n" transform="translate(1154.2 1077.1)"><rect width="171.4" height="96" fill="#a22861"/><rect y="96" width="171.4" height="111.4" fill="#fff"/><rect x="114.3" y="96" width="57.1" height="55.7" fill="#7c1d6d"/><rect x="114.3" y="151.7" width="57.1" height="55.7" fill="#952566"/><path d="M57.1 96V207.4M0 151.7H114.3"/><text x="85.7" y="43.5">OH-CH-C-CH2</text><text x="85.7" y="63.5">34110c</text></g>
<g id="n341104" class="n" transform="translate(1371.6 1077.1)"><rect width="171.4" height="96" fill="#e05536"/><rect y="96" width="171.4" height="111.4" fill="#fff"/><rect x="114.3" y="96" width="57.1" height="55.7" fill="#952566"/><rect x="114.3" y="151.7" width="57.1" height="55.7" fill="#a52a60"/><path d="M57.1 96V207.4M0 151.7H114.3"/><text x="85.7" y="43.5">O-CH-CH-CH2</text><text x="85.7" y="63.5">341104</text></g>
<g id="n341106" class="n" transform="translate(1587 1077.1)"><rect width="172" height="96" fill="#c0394f"/><rect y="96" width="172" height="111.4" fill="#fff"/><rect x="114.7" y="96" width="57.3" height="55.7" fill="#8c2369"/><rect x="114.7" y="151.7" width="57.3" height="55.7" fill="#65156e"/><path d="M57.3 96V207.4M0 151.7H114.7"/><text x="86" y="43.5">O-CH2-C-CH2</text><text x="86" y="63.5">341106</text></g>
<g id="n34110b" class="n" transform="translate(1803 1077.1)"><rect width="171.4" height="96" fill="#9e2763"/><rect y="96" width="171.4" height="111.4" fill="#fff"/><rect x="114.3" y="96" width="57.1" height="55.7" fill="#87206b"/><rect x="114.3" y="151.7" width="57.1" height="55.7" fill="#952566"/><path d="M57.1 96V207.4M0 151.7H114.3"/><text x="85.7" y="43.5">OH-C-CH2-CH</text><text x="85.7" y="63.5">34110b</text></g>
<g id="n34110d" class="n" transform="translate(2020.3 1077.1)"><rect width="176" height="96" fill="#c0394f"/><rect y="96" width="176" height="111.4" fill="#fff"/><rect x="117.3" y="96" width="58.7" height="55.7" fill="#8c2369"/><rect x="117.3" y="151.7" width="58.7" height="55.7" fill="#952566"/><path d="M58.7 96V207.4M0 151.7H117.3"/><text x="88" y="43.5">OH-CH-CH-CH</text><text x="88" y="63.5">34110d</text></g>
<g id="n341105" class="n" transform="translate(2243.4 1077.1)"><rect width="171.4" height="96" fill="#b3305a"/><rect y="96" width="171.4" height="111.4" fill="#fff"/><rect x="114.3" y="96" width="57.1" height="55.7" fill="#952566"/><rect x="114.3" y="151.7" width="57.1" height="55.7" fill="#b3305a"/><path d="M57.1 96V207.4M0 151.7H114.3"/><text x="85.7" y="43.5">O-CH-CH2-CH</text><text x="85.7" y="63.5">341105</text></g>
<g id="n34110f" class="n" transform="translate(2460.7 1077.1)"><rect width="171.5" height="96" fill="#8e2369"/><rect y="96" width="171.5" height="111.4" fill="#fff"/><rect x="114.3" y="96" width="57.2" height="55.7" fill="#87206b"/><rect x="114.3" y="151.7" width="57.2" height="55.7" fill="#87206b"/><path d="M57.2 96V207.4M0 151.7H114.3"/><text x="85.8" y="43.5">OH-CH2-C-CH</text><text x="85.8" y="63.5">34110f</text></g>
<g id="n341107" class="n" transform="translate(2678.1 1077.1)"><rect width="171.5" height="96" fill="#c0394f"/><rect y="96" width="171.5" height="111.4" fill="#fff"/><rect x="114.3" y="96" width="57.2" height="55.7" fill="#952566"/><rect x="114.3" y="151.7" width="57.2" height="55.7" fill="#7c1d6d"/><path d="M57.2 96V207.4M0 151.7H114.3"/><text x="85.8" y="43.5">O-CH2-CH-CH</text><text x="85.8" y="63.5">341107</text></g>
<g id="n34110e" class="n" transform="translate(2895.5 1077.1)"><rect width="171.5" height="96" fill="#a22861"/><rect y="96" width="171.5" height="111.4" fill="#fff"/><rect x="114.3" y="96" width="57.2" height="55.7" fill="#7c1d6d"/><rect x="114.3" y="151.7" width="57.2" height="55.7" fill="#87206b"/><path d="M57.2 96V207.4M0 151.7H114.3"/><text x="85.8" y="43.5">OH-CH-CH2-C</text><text x="85.8" y="63.5">34110e</text></g>
<g id="n341110" class="n" transform="translate(3112.9 1077.1)"><rect width="171.4" height="96" fill="#c0394f"/><rect y="96" width="171.4" height="111.4" fill="#fff"/><rect x="114.3" y="96" width="57.1" height="55.7" fill="#8c2369"/><rect x="114.3" y="151.7" width="57.1" height="55.7" fill="#781c6d"/><path d="M57.1 96V207.4M0 151.7H114.3"/><text x="85.7" y="43.5">OH-CH2-CH-C</text><text x="85.7" y="63.5">341110</text></g>
<g id="n341108" class="n" transform="translate(3330.3 1077.1)"><rect width="168.1" height="96" fill="#c0394f"/><rect y="96" width="168.1" height="111.4" fill="#fff"/><rect x="112.1" y="96" width="56" height="55.7" fill="#8c2369"/><rect x="112.1" y="151.7" width="56" height="55.7" fill="#8c2369"/><path d="M56 96V207.4M0 151.7H112.1"/><text x="84.1" y="43.5">O-CH2-CH2-C</text><text x="84.1" y="63.5">341108</text></g>

<g id="n331101" class="n" transform="translate(401.2 1343.7)"><rect width="167" height="96" fill="#c73f4a"/><rect y="96" width="167" height="111.4" fill="#fff"/><rect x="111.3" y="96" width="55.7" height="55.7" fill="#a52a60"/><rect x="111.3" y="151.7" width="55.7" height="55.7" fill="#a52a60"/><path d="M55.7 96V207.4M0 151.7H111.3"/><text x="83.5" y="43.5">O-C-C-CH3</text><text x="83.5" y="63.5">331101</text></g>
<g id="n331109" class="n" transform="translate(728.4 1343.7)"><rect width="167" height="96" fill="#8e2369"/><rect y="96" width="167" height="111.4" fill="#fff"/><rect x="111.3" y="96" width="55.7" height="55.7" fill="#6a176e"/><rect x="111.3" y="151.7" width="55.7" height="55.7" fill="#61136e"/><path d="M55.7 96V207.4M0 151.7H111.3"/><text x="83.5" y="43.5">OH-C-C-CH2</text><text x="83.5" y="63.5">331109</text></g>
<g id="n331102" class="n" transform="translate(941.3 1343.7)"><rect width="167" height="96" fill="#a82a5f"/><rect y="96" width="167" height="111.4" fill="#fff"/><rect x="111.3" y="96" width="55.7" height="55.7" fill="#9a2765"/><rect x="111.3" y="151.7" width="55.7" height="55.7" fill="#87206b"/><path d="M55.7 96V207.4M0 151.7H111.3"/><text x="83.5" y="43.5">O-C-CH-CH2</text><text x="83.5" y="63.5">331102</text></g>
<g id="n331104" class="n" transform="translate(1173.3 1343.7)"><rect width="167" height="96" fill="#a82a5f"/><rect y="96" width="167" height="111.4" fill="#fff"/><rect x="111.3" y="96" width="55.7" height="55.7" fill="#7c1d6d"/><rect x="111.3" y="151.7" width="55.7" height="55.7" fill="#741a6d"/><path d="M55.7 96V207.4M0 151.7H111.3"/><text x="83.5" y="43.5">O-CH-C-CH2</text><text x="83.5" y="63.5">331104</text></g>
<g id="n33110a" class="n" transform="translate(1404.1 1343.7)"><rect width="167" height="96" fill="#a82a5f"/><rect y="96" width="167" height="111.4" fill="#fff"/><rect x="111.3" y="96" width="55.7" height="55.7" fill="#781c6d"/><rect x="111.3" y="151.7" width="55.7" height="55.7" fill="#87206b"/><path d="M55.7 96V207.4M0 151.7H111.3"/><text x="83.5" y="43.5">OH-C-CH-CH</text><text x="83.5" y="63.5">33110a</text></g>
<g id="n331103" class="n" transform="translate(1617 1343.7)"><rect width="167" height="96" fill="#a52a60"/><rect y="96" width="167" height="111.4" fill="#fff"/><rect x="111.3" y="96" width="55.7" height="55.7" fill="#a22861"/><rect x="111.3" y="151.7" width="55.7" height="55.7" fill="#801e6c"/><path d="M55.7 96V207.4M0 151.7H111.3"/><text x="83.5" y="43.5">O-C-CH2-CH</text><text x="83.5" y="63.5">331103</text></g>
<g id="n33110c" class="n" transform="translate(1829.8 1343.7)"><rect width="167" height="96" fill="#a22861"/><rect y="96" width="167" height="111.4" fill="#fff"/><rect x="111.3" y="96" width="55.7" height="55.7" fill="#65156e"/><rect x="111.3" y="151.7" width="55.7" height="55.7" fill="#87206b"/><path d="M55.7 96V207.4M0 151.7H111.3"/><text x="83.5" y="43.5">OH-CH-C-CH</text><text x="83.5" y="63.5">33110c</text></g>
<g id="n331105" class="n" transform="translate(2043.9 1343.7)"><rect width="167" height="96" fill="#b8335a"/><rect y="96" width="167" height="111.4" fill="#fff"/><rect x="111.3" y="96" width="55.7" height="55.7" fill="#7c1d6d"/><rect x="111.3" y="151.7" width="55.7" height="55.7" fill="#9a2765"/><path d="M55.7 96V207.4M0 151.7H111.3"/><text x="83.5" y="43.5">O-CH-CH-CH</text><text x="83.5" y="63.5">331105</text></g>
<g id="n331107" class="n" transform="translate(2256.8 1343.7)"><rect width="167" height="96" fill="#87206b"/><rect y="96" width="167" height="111.4" fill="#fff"/><rect x="111.3" y="96" width="55.7" height="55.7" fill="#741a6d"/><rect x="111.3" y="151.7" width="55.7" height="55.7" fill="#57106e"/><path d="M55.7 96V207.4M0 151.7H111.3"/><text x="83.5" y="43.5">O-CH2-C-CH</text><text x="83.5" y="63.5">331107</text></g>
<g id="n33110b" class="n" transform="translate(2469.7 1343.7)"><rect width="167" height="96" fill="#6a176e"/><rect y="96" width="167" height="111.4" fill="#fff"/><rect x="111.3" y="96" width="55.7" height="55.7" fill="#6a176e"/><rect x="111.3" y="151.7" width="55.7" height="55.7" fill="#6a176e"/><path d="M55.7 96V207.4M0 151.7H111.3"/><text x="83.5" y="43.5">OH-C-CH2-C</text><text x="83.5" y="63.5">33110b</text></g>
<g id="n33110d" class="n" transform="translate(2683.7 1343.7)"><rect width="167" height="96" fill="#a82a5f"/><rect y="96" width="167" height="111.4" fill="#fff"/><rect x="111.3" y="96" width="55.7" height="55.7" fill="#65156e"/><rect x="111.3" y="151.7" width="55.7" height="55.7" fill="#6a176e"/><path d="M55.7 96V207.4M0 151.7H111.3"/><text x="83.5" y="43.5">OH-CH-CH-C</text><text x="83.5" y="63.5">33110d</text></g>
<g id="n331106" class="n" transform="translate(2896.6 1343.7)"><rect width="167" height="96" fill="#a82a5f"/><rect y="96" width="167" height="111.4" fill="#fff"/><rect x="111.3" y="96" width="55.7" height="55.7" fill="#7c1d6d"/><rect x="111.3" y="151.7" width="55.7" height="55.7" fill="#952566"/><path d="M55.7 96V207.4M0 151.7H111.3"/><text x="83.5" y="43.5">O-CH-CH2-C</text><text x="83.5" y="63.5">331106</text></g>
<g id="n33110e" class="n" transform="translate(3110.6 1343.7)"><rect width="167" height="96" fill="#a22861"/><rect y="96" width="167" height="111.4" fill="#fff"/><rect x="111.3" y="96" width="55.7" height="55.7" fill="#61136e"/><rect x="111.3" y="151.7" width="55.7" height="55.7" fill="#61136e"/><path d="M55.7 96V207.4M0 151.7H111.3"/><text x="83.5" y="43.5">OH-CH2-C-C</text><text x="83.5" y="63.5">33110e</text></g>
<g id="n331108" class="n" transform="translate(3323.5 1343.7)"><rect width="167" height="96" fill="#b8335a"/><rect y="96" width="167" height="111.4" fill="#fff"/><rect x="111.3" y="96" width="55.7" height="55.7" fill="#741a6d"/><rect x="111.3" y="151.7" width="55.7" height="55.7" fill="#57106e"/><path d="M55.7 96V207.4M0 151.7H111.3"/><text x="83.5" y="43.5">O-CH2-CH-C</text><text x="83.5" y="63.5">331108</text></g>

<g id="n321101" class="n" transform="translate(940.9 1610.3)"><rect width="167.5" height="96" fill="#9a2765"/><rect y="96" width="167.5" height="111.4" fill="#fff"/><rect x="111.7" y="96" width="55.8" height="55.7" fill="#87206b"/><rect x="111.7" y="151.7" width="55.8" height="55.7" fill="#7c1d6d"/><path d="M55.8 96V207.4M0 151.7H111.7"/><text x="83.8" y="43.5">O-C-C-CH2</text><text x="83.8" y="63.5">321101</text></g>
<g id="n321107" class="n" transform="translate(1417 1610.3)"><rect width="167.5" height="96" fill="#5c126e"/><rect y="96" width="167.5" height="111.4" fill="#fff"/><rect x="111.7" y="96" width="55.8" height="55.7" fill="#5c126e"/><rect x="111.7" y="151.7" width="55.8" height="55.7" fill="#5c126e"/><path d="M55.8 96V207.4M0 151.7H111.7"/><text x="83.8" y="43.5">OH-C-C-CH</text><text x="83.8" y="63.5">321107</text></g>
<g id="n321102" class="n" transform="translate(1630.3 1610.3)"><rect width="167.5" height="96" fill="#a22861"/><rect y="96" width="167.5" height="111.4" fill="#fff"/><rect x="111.7" y="96" width="55.8" height="55.7" fill="#8c2369"/><rect x="111.7" y="151.7" width="55.8" height="55.7" fill="#781c6d"/><path d="M55.8 96V207.4M0 151.7H111.7"/><text x="83.8" y="43.5">O-C-CH-CH</text><text x="83.8" y="63.5">321102</text></g>
<g id="n321104" class="n" transform="translate(1950.2 1610.3)"><rect width="167.5" height="96" fill="#a22861"/><rect y="96" width="167.5" height="111.4" fill="#fff"/><rect x="111.7" y="96" width="55.8" height="55.7" fill="#65156e"/><rect x="111.7" y="151.7" width="55.8" height="55.7" fill="#6a176e"/><path d="M55.8 96V207.4M0 151.7H111.7"/><text x="83.8" y="43.5">O-CH-C-CH</text><text x="83.8" y="63.5">321104</text></g>
<g id="n321108" class="n" transform="translate(2216.8 1610.3)"><rect width="167.5" height="96" fill="#65156e"/><rect y="96" width="167.5" height="111.4" fill="#fff"/><rect x="111.7" y="96" width="55.8" height="55.7" fill="#5c126e"/><rect x="111.7" y="151.7" width="55.8" height="55.7" fill="#5c126e"/><path d="M55.8 96V207.4M0 151.7H111.7"/><text x="83.8" y="43.5">OH-C-CH-C</text><text x="83.8" y="63.5">321108</text></g>
<g id="n321103" class="n" transform="translate(2430 1610.3)"><rect width="167.5" height="96" fill="#741a6d"/><rect y="96" width="167.5" height="111.4" fill="#fff"/><rect x="111.7" y="96" width="55.8" height="55.7" fill="#7c1d6d"/><rect x="111.7" y="151.7" width="55.8" height="55.7" fill="#57106e"/><path d="M55.8 96V207.4M0 151.7H111.7"/><text x="83.8" y="43.5">O-C-CH2-C</text><text x="83.8" y="63.5">321103</text></g>
<g id="n321109" class="n" transform="translate(2643.6 1610.3)"><rect width="167.5" height="96" fill="#8c2369"/><rect y="96" width="167.5" height="111.4" fill="#fff"/><rect x="111.7" y="96" width="55.8" height="55.7" fill="#480b6a"/><rect x="111.7" y="151.7" width="55.8" height="55.7" fill="#61136e"/><path d="M55.8 96V207.4M0 151.7H111.7"/><text x="83.8" y="43.5">OH-CH-C-C</text><text x="83.8" y="63.5">321109</text></g>
<g id="n321105" class="n" transform="translate(2856.4 1610.3)"><rect width="167.5" height="96" fill="#b3305a"/><rect y="96" width="167.5" height="111.4" fill="#fff"/><rect x="111.7" y="96" width="55.8" height="55.7" fill="#61136e"/><rect x="111.7" y="151.7" width="55.8" height="55.7" fill="#781c6d"/><path d="M55.8 96V207.4M0 151.7H111.7"/><text x="83.8" y="43.5">O-CH-CH-C</text><text x="83.8" y="63.5">321105</text></g>
<g id="n321106" class="n" transform="translate(3096.4 1610.3)"><rect width="167.5" height="96" fill="#952566"/><rect y="96" width="167.5" height="111.4" fill="#fff"/><rect x="111.7" y="96" width="55.8" height="55.7" fill="#57106e"/><rect x="111.7" y="151.7" width="55.8" height="55.7" fill="#390963"/><path d="M55.8 96V207.4M0 151.7H111.7"/><text x="83.8" y="43.5">O-CH2-C-C</text><text x="83.8" y="63.5">321106</text></g>

<g id="n311101" class="n" transform="translate(1630.3 1876.9)"><rect width="167.5" height="96" fill="#831f6c"/><rect y="96" width="167.5" height="111.4" fill="#fff"/><rect x="111.7" y="96" width="55.8" height="55.7" fill="#741a6d"/><rect x="111.7" y="151.7" width="55.8" height="55.7" fill="#781c6d"/><path d="M55.8 96V207.4M0 151.7H111.7"/><text x="83.8" y="43.5">O-C-C-CH</text><text x="83.8" y="63.5">311101</text></g>
<g id="n311104" class="n" transform="translate(2216.8 1876.9)"><rect width="167.5" height="96" fill="#5c126e"/><rect y="96" width="167.5" height="111.4" fill="#fff"/><rect x="111.7" y="96" width="55.8" height="55.7" fill="#380962"/><rect x="111.7" y="151.7" width="55.8" height="55.7" fill="#380962"/><path d="M55.8 96V207.4M0 151.7H111.7"/><text x="83.8" y="43.5">OH-C-C-C</text><text x="83.8" y="63.5">311104</text></g>
<g id="n311102" class="n" transform="translate(2430 1876.9)"><rect width="167.5" height="96" fill="#741a6d"/><rect y="96" width="167.5" height="111.4" fill="#fff"/><rect x="111.7" y="96" width="55.8" height="55.7" fill="#741a6d"/><rect x="111.7" y="151.7" width="55.8" height="55.7" fill="#57106e"/><path d="M55.8 96V207.4M0 151.7H111.7"/><text x="83.8" y="43.5">O-C-CH-C</text><text x="83.8" y="63.5">311102</text></g>
<g id="n311103" class="n" transform="translate(2643.6 1876.9)"><rect width="167.5" height="96" fill="#741a6d"/><rect y="96" width="167.5" height="111.4" fill="#fff"/><rect x="111.7" y="96" width="55.8" height="55.7" fill="#480b6a"/><rect x="111.7" y="151.7" width="55.8" height="55.7" fill="#480b6a"/><path d="M55.8 96V207.4M0 151.7H111.7"/><text x="83.8" y="43.5">O-CH-C-C</text><text x="83.8" y="63.5">311103</text></g>

<g id="n301101" class="n" transform="translate(2323.4 2143.5)"><rect width="167.5" height="96" fill="#6a176e"/><rect y="96" width="167.5" height="111.4" fill="#fff"/><rect x="111.7" y="96" width="55.8" height="55.7" fill="#57106e"/><rect x="111.7" y="151.7" width="55.8" height="55.7" fill="#57106e"/><path d="M55.8 96V207.4M0 151.7H111.7"/><text x="83.8" y="43.5">O-C-C-C</text><text x="83.8" y="63.5">301101</text></g>
</svg>
